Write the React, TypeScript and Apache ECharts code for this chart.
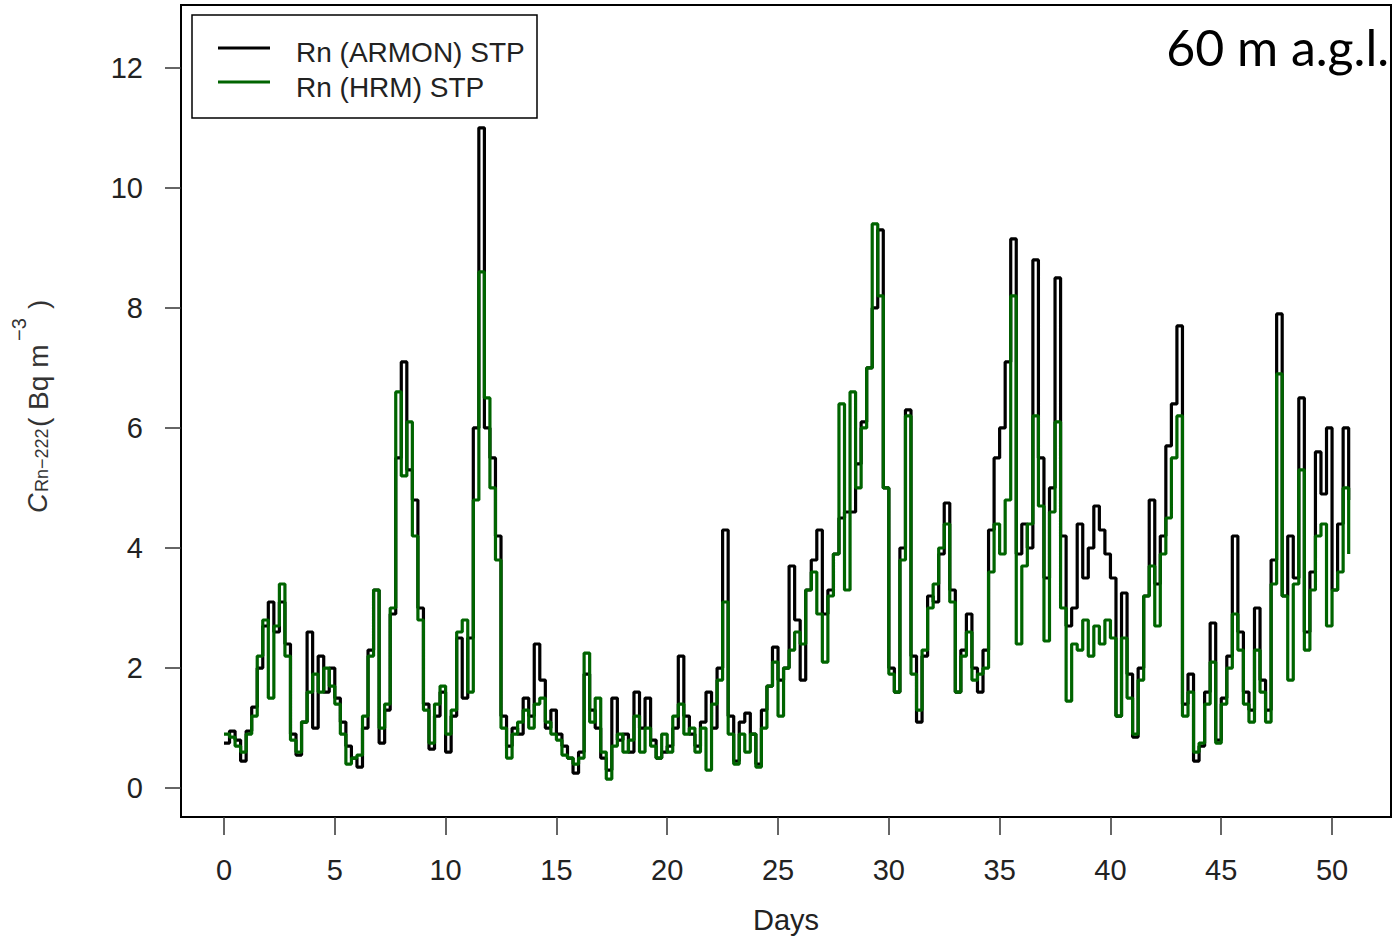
import React, { useEffect, useRef } from "react";
import * as echarts from "echarts";

// Sampling step of the records, in days
const DAY_STEP = 0.25;

// Rn (ARMON) STP, Bq m-3, one value every 6 h from day 0
const armonValues = [
  0.75, 0.95, 0.8, 0.45, 0.95, 1.35, 2.0, 2.7,
  3.1, 2.6, 3.1, 2.4, 0.9, 0.55, 1.1, 2.6,
  1.0, 2.2, 1.6, 2.0, 1.5, 1.1, 0.7, 0.5,
  0.35, 1.0, 2.3, 3.3, 0.75, 1.3, 2.9, 5.5,
  7.1, 5.3, 4.8, 3.0, 1.4, 0.65, 1.2, 1.6,
  0.6, 1.2, 2.5, 1.5, 2.5, 6.0, 11.0, 6.0,
  5.5, 4.2, 1.2, 0.7, 1.0, 0.9, 1.5, 1.2,
  2.4, 1.8, 1.0, 1.3, 0.9, 0.7, 0.5, 0.25,
  0.6, 1.9, 1.3, 1.0, 0.5, 0.3, 1.5, 0.8,
  0.9, 0.6, 1.6, 1.0, 1.5, 0.8, 0.5, 0.6,
  0.7, 1.0, 2.2, 1.2, 0.9, 0.7, 1.1, 1.6,
  1.0, 2.0, 4.3, 1.2, 0.45, 1.1, 1.25, 0.9,
  0.4, 1.3, 1.7, 2.35, 1.8, 2.0, 3.7, 2.8,
  1.8, 3.3, 3.8, 4.3, 2.9, 3.3, 3.9, 4.5,
  4.6, 4.6, 5.4, 6.1, 7.0, 8.0, 9.3, 5.0,
  2.0, 1.6, 4.0, 6.3, 2.2, 1.1, 2.2, 3.2,
  3.1, 3.9, 4.75, 3.3, 1.6, 2.3, 2.9, 2.0,
  1.6, 2.3, 4.3, 5.5, 6.0, 7.1, 9.15, 3.9,
  4.4, 4.0, 8.8, 5.5, 3.5, 5.0, 8.5, 4.2,
  2.7, 3.0, 4.4, 3.5, 4.0, 4.7, 4.3, 3.9,
  3.5, 1.2, 3.25, 1.9, 0.85, 2.0, 3.2, 4.8,
  3.4, 4.2, 5.7, 6.4, 7.7, 1.4, 1.9, 0.45,
  0.7, 1.6, 2.75, 0.8, 1.5, 2.2, 4.2, 2.6,
  1.6, 1.3, 3.0, 1.8, 1.3, 3.8, 7.9, 3.2,
  4.2, 3.5, 6.5, 2.6, 3.6, 5.6, 4.9, 6.0,
  3.3, 4.4, 6.0, 4.8,
];

// Rn (HRM) STP, Bq m-3, one value every 6 h from day 0
const hrmValues = [
  0.9, 0.85, 0.7, 0.6, 0.9, 1.2, 2.2, 2.8,
  1.5, 2.7, 3.4, 2.2, 0.8, 0.6, 1.1, 1.6,
  1.9, 1.6, 2.0, 1.7, 1.4, 0.9, 0.4, 0.5,
  0.55, 1.2, 2.2, 3.3, 1.0, 1.4, 3.0, 6.6,
  5.2, 6.1, 4.2, 2.8, 1.3, 0.75, 1.4, 1.7,
  0.9, 1.3, 2.6, 2.8, 1.6, 4.8, 8.6, 6.5,
  5.0, 3.8, 1.0, 0.5, 0.9, 1.1, 1.3, 1.0,
  1.4, 1.5, 1.1, 0.9, 0.8, 0.55, 0.5, 0.4,
  0.5, 2.25, 1.1, 1.5, 0.6, 0.15, 0.7, 0.9,
  0.6, 0.8, 1.2, 0.6, 1.0, 0.7, 0.5, 0.9,
  0.6, 1.2, 1.4, 0.9, 1.0, 0.6, 1.0, 0.3,
  1.4, 1.8, 3.1, 0.9, 0.4, 0.9, 0.6, 0.9,
  0.35, 1.0, 1.7, 2.1, 1.2, 2.0, 2.3, 2.6,
  2.4, 3.3, 3.6, 2.9, 2.1, 3.2, 3.9, 6.4,
  3.3, 6.6, 5.0, 6.0, 7.0, 9.4, 8.2, 5.0,
  1.9, 1.6, 3.8, 6.2, 1.9, 1.3, 2.3, 3.0,
  3.4, 4.0, 4.4, 3.1, 1.6, 2.2, 2.6, 1.8,
  1.9, 2.0, 3.6, 4.4, 3.9, 4.8, 8.2, 2.4,
  3.7, 4.4, 6.2, 4.7, 2.45, 4.6, 6.1, 3.0,
  1.45, 2.4, 2.3, 2.8, 2.2, 2.7, 2.4, 2.8,
  2.5, 1.2, 2.5, 1.5, 0.9, 1.8, 3.2, 3.7,
  2.7, 3.9, 4.5, 5.5, 6.2, 1.2, 1.6, 0.6,
  0.75, 1.4, 2.1, 0.75, 1.4, 2.0, 2.9, 2.3,
  1.4, 1.1, 2.3, 1.6, 1.1, 3.4, 6.9, 3.2,
  1.8, 3.4, 5.3, 2.3, 3.3, 4.2, 4.4, 2.7,
  3.3, 3.6, 5.0, 3.9,
];

const xTicks = [0, 5, 10, 15, 20, 25, 30, 35, 40, 45, 50];
const yTicks = [0, 2, 4, 6, 8, 10, 12];
const seriesNames = ["Rn (ARMON) STP", "Rn (HRM) STP"];
const seriesColors = ["#000000", "#006400"];
const xAxisTitle = "Days";
const heightLabel = "60 m a.g.l.";

const FONT = '"Liberation Sans", Arial, sans-serif';

export default function App() {
  const ref = useRef<HTMLDivElement>(null);

  useEffect(() => {
    if (!ref.current) return;
    const chart = echarts.init(ref.current, undefined, { renderer: "svg" });

    const toPairs = (vals: number[]) => vals.map((v, i) => [i * DAY_STEP, v]);

    const option: any = {
      animation: false,
      backgroundColor: "#ffffff",
      grid: {
        left: 181,
        top: 5,
        width: 1210,
        height: 814,
        show: true,
        borderColor: "#000",
        borderWidth: 2,
        backgroundColor: "transparent",
      },
      xAxis: {
        type: "value",
        min: -1.94,
        max: 52.66,
        axisLine: { show: false, onZero: false },
        splitLine: { show: false },
        axisTick: {
          show: true,
          length: 18,
          lineStyle: { color: "#333", width: 1.5 },
          customValues: xTicks,
        },
        axisLabel: {
          customValues: xTicks,
          fontSize: 29,
          fontFamily: FONT,
          color: "#222",
          margin: 38,
        },
        name: xAxisTitle,
        nameLocation: "middle",
        nameGap: 88,
        nameTextStyle: { fontSize: 29, fontFamily: FONT, color: "#222" },
      },
      yAxis: {
        type: "value",
        min: -0.482,
        max: 13.047,
        axisLine: { show: false, onZero: false },
        splitLine: { show: false },
        axisTick: {
          show: true,
          length: 16,
          lineStyle: { color: "#333", width: 1.5 },
          customValues: yTicks,
        },
        axisLabel: {
          customValues: yTicks,
          fontSize: 29,
          fontFamily: FONT,
          color: "#222",
          margin: 38,
        },
      },
      series: [
        {
          name: seriesNames[0],
          type: "line",
          step: "end",
          symbol: "none",
          data: toPairs(armonValues),
          lineStyle: { color: seriesColors[0], width: 3.2 },
          itemStyle: { color: seriesColors[0] },
          z: 2,
        },
        {
          name: seriesNames[1],
          type: "line",
          step: "end",
          symbol: "none",
          data: toPairs(hrmValues),
          lineStyle: { color: seriesColors[1], width: 3.2 },
          itemStyle: { color: seriesColors[1] },
          z: 3,
        },
      ],
      graphic: [
        {
          type: "rect",
          shape: { x: 192, y: 15, width: 345, height: 103 },
          style: { fill: "#fff", stroke: "#000", lineWidth: 1.5 },
          z: 10,
        },
        {
          type: "line",
          shape: { x1: 218, y1: 48, x2: 270, y2: 48 },
          style: { stroke: seriesColors[0], lineWidth: 3 },
          z: 11,
        },
        {
          type: "line",
          shape: { x1: 218, y1: 82, x2: 270, y2: 82 },
          style: { stroke: seriesColors[1], lineWidth: 3 },
          z: 11,
        },
        {
          type: "text",
          x: 296,
          y: 52,
          style: {
            text: seriesNames[0],
            font: `28px ${FONT}`,
            fill: "#222",
            textAlign: "left",
            textVerticalAlign: "middle",
          },
          z: 11,
        },
        {
          type: "text",
          x: 296,
          y: 87,
          style: {
            text: seriesNames[1],
            font: `28px ${FONT}`,
            fill: "#222",
            textAlign: "left",
            textVerticalAlign: "middle",
          },
          z: 11,
        },
        {
          type: "text",
          x: 1389,
          y: 47,
          style: {
            text: heightLabel,
            font: '50px Lato, "Open Sans", sans-serif',
            fill: "#000",
            textAlign: "right",
            textVerticalAlign: "middle",
          },
          z: 11,
        },
        {
          type: "group",
          x: 38,
          y: 513,
          rotation: Math.PI / 2,
          children: [
            {
              type: "text",
              x: 0,
              y: 0,
              style: { text: "C", font: `italic 27px ${FONT}`, fill: "#333", textAlign: "left", textVerticalAlign: "middle" },
            },
            {
              type: "text",
              x: 21,
              y: 4,
              style: { text: "Rn\u2212222", font: `18px ${FONT}`, fill: "#333", textAlign: "left", textVerticalAlign: "middle" },
            },
            {
              type: "text",
              x: 86,
              y: 0,
              style: { text: "( Bq m", font: `28px ${FONT}`, fill: "#333", textAlign: "left", textVerticalAlign: "middle" },
            },
            {
              type: "text",
              x: 172,
              y: -19,
              style: { text: "\u22123", font: `20px ${FONT}`, fill: "#333", textAlign: "left", textVerticalAlign: "middle" },
            },
            {
              type: "text",
              x: 204,
              y: 0,
              style: { text: ")", font: `28px ${FONT}`, fill: "#333", textAlign: "left", textVerticalAlign: "middle" },
            },
          ],
        },
      ],
    };

    chart.setOption(option);
    return () => chart.dispose();
  }, []);

  return (
    <div
      ref={ref}
      style={{ position: "fixed", left: 0, top: 0, width: 1394, height: 939, background: "#fff" }}
    />
  );
}
